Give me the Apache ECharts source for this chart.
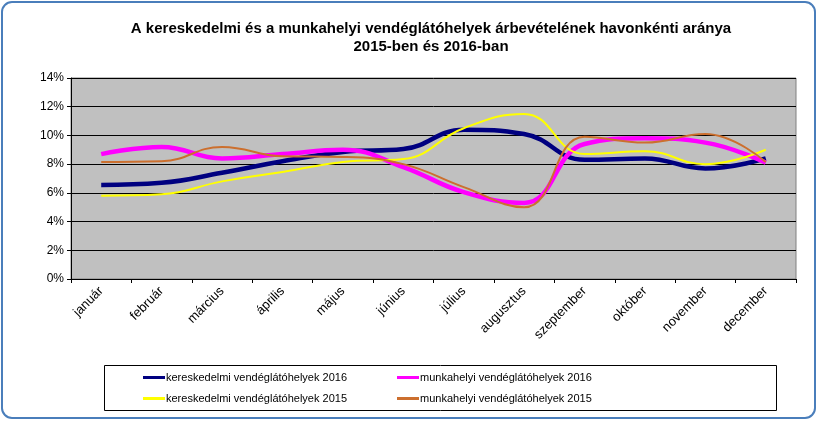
<!DOCTYPE html>
<html>
<head>
<meta charset="utf-8">
<script src="https://cdn.jsdelivr.net/npm/echarts@6/dist/echarts.min.js"></script>
<style>
  html, body { margin: 0; padding: 0; background: #fff; }
  #chart { width: 818px; height: 421px; }
</style>
</head>
<body>
<div id="chart"></div>
<script>
const months = ['január', 'február', 'március', 'április', 'május', 'június',
  'július', 'augusztus', 'szeptember', 'október', 'november', 'december']

// havonkénti arány, %
const ker2016 = [6.55, 6.7, 7.4, 8.2, 8.85, 9.05, 10.4, 10.1, 8.3, 8.4, 7.7, 8.4]
const munk2016 = [8.7, 9.2, 8.4, 8.7, 9.0, 7.8, 6.05, 5.3, 9.4, 9.8, 9.5, 8.1]
const ker2015 = [5.8, 5.9, 6.8, 7.45, 8.15, 8.35, 10.5, 11.5, 8.7, 8.9, 8.0, 9.0]
const munk2015 = [8.15, 8.2, 9.2, 8.55, 8.5, 8.0, 6.4, 5.0, 9.9, 9.5, 10.1, 8.15]

const names = ['kereskedelmi vendéglátóhelyek 2016', 'munkahelyi vendéglátóhelyek 2016',
  'kereskedelmi vendéglátóhelyek 2015', 'munkahelyi vendéglátóhelyek 2015']

const font = 'Liberation Sans, Arial, sans-serif'

const chart = echarts.init(document.getElementById('chart'))

const legendBase = {
  orient: 'vertical',
  top: 367,
  icon: 'rect',
  itemWidth: 22,
  itemHeight: 3,
  itemGap: 10,
  textStyle: { fontFamily: font, fontSize: 11, color: '#000', padding: [0, 0, 0, -4] },
}

chart.setOption({
  animation: false,
  graphic: [
    {
      type: 'rect',
      shape: { x: 2, y: 2, width: 813, height: 416, r: 10 },
      style: { fill: 'none', stroke: '#4a7ebb', lineWidth: 2 },
    },
    {
      type: 'rect',
      shape: { x: 104.5, y: 365.5, width: 672, height: 45 },
      style: { fill: '#fff', stroke: '#000', lineWidth: 1 },
      z: -1,
    },
  ],
  title: {
    text: 'A kereskedelmi és a munkahelyi vendéglátóhelyek árbevételének havonkénti aránya\n2015-ben és 2016-ban',
    left: 426,
    top: 15,
    textAlign: 'center',
    textStyle: { fontFamily: font, fontSize: 15, fontWeight: 'bold', color: '#000', lineHeight: 18 },
  },
  legend: [
    Object.assign({}, legendBase, { left: 138, data: [names[0], names[2]] }),
    Object.assign({}, legendBase, { left: 392, data: [names[1], names[3]] }),
  ],
  grid: {
    left: 71, right: 22, top: 78, bottom: 142,
    show: true,
    backgroundColor: '#c0c0c0',
    borderColor: '#808080',
    borderWidth: 1,
  },
  xAxis: {
    type: 'category',
    data: months,
    boundaryGap: true,
    axisLine: { lineStyle: { color: '#000', width: 1 } },
    axisTick: { show: true, length: 4, lineStyle: { color: '#000' } },
    axisLabel: { rotate: 45, fontFamily: font, fontSize: 13, color: '#000', margin: 10, interval: 0 },
  },
  yAxis: {
    type: 'value',
    min: 0,
    max: 14,
    interval: 2,
    axisLine: { show: true, lineStyle: { color: '#000' } },
    axisTick: { show: true, length: 4, lineStyle: { color: '#000' } },
    axisLabel: { formatter: '{value}%', fontFamily: font, fontSize: 12, color: '#000', margin: 7 },
    splitLine: { lineStyle: { color: '#000', width: 1 } },
  },
  series: [
    { name: names[0], type: 'line', data: ker2016, smooth: 0.45, showSymbol: false,
      lineStyle: { color: '#000080', width: 4.5 }, itemStyle: { color: '#000080' }, z: 3 },
    { name: names[1], type: 'line', data: munk2016, smooth: 0.45, showSymbol: false,
      lineStyle: { color: '#ff00ff', width: 4.5 }, itemStyle: { color: '#ff00ff' }, z: 4 },
    { name: names[2], type: 'line', data: ker2015, smooth: 0.45, showSymbol: false,
      lineStyle: { color: '#ffff00', width: 2 }, itemStyle: { color: '#ffff00' }, z: 5 },
    { name: names[3], type: 'line', data: munk2015, smooth: 0.45, showSymbol: false,
      lineStyle: { color: '#cc6f2e', width: 2 }, itemStyle: { color: '#cc6f2e' }, z: 6 },
  ],
})
</script>
</body>
</html>
